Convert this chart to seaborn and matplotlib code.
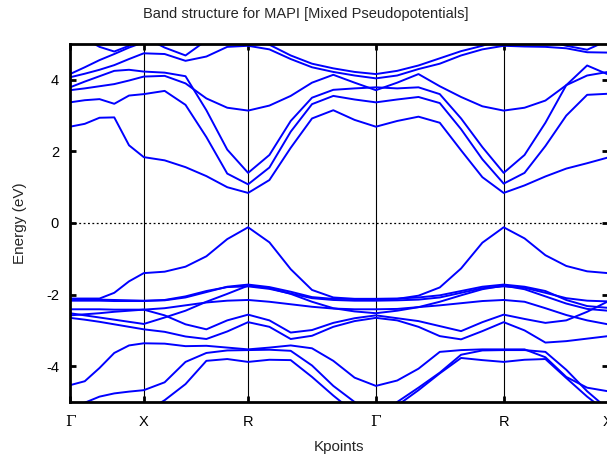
import numpy as np
import pandas as pd
import matplotlib
matplotlib.use("Agg")
import matplotlib.pyplot as plt
import seaborn as sns

# ---------------- data ----------------
# k-path segments (Γ-X, X-R, R-Γ, Γ-R, R-X) and their sampling
seg_lengths = [0.5, 0.7071, 0.8660, 0.8660, 0.7071]
seg_divs = [5, 5, 6, 6, 5]
sym_labels = ["Γ", "X", "R", "Γ", "R", "X"]
ytick_vals = [-4, -2, 0, 2, 4]
ytick_labels = ["-4", "-2", "0", "2", "4"]

# conduction bands (eV), one value per k-point
cb1 = [2.69, 2.77, 2.94, 2.95, 2.17, 1.84,
       1.75, 1.56, 1.31, 1.00, 0.84,
       1.20, 2.10, 2.92, 3.15, 2.88, 2.69,
       2.85, 2.97, 2.80, 2.03, 1.28, 0.84,
       1.05, 1.30, 1.52, 1.67, 1.83]
cb2 = [3.37, 3.43, 3.46, 3.33, 3.56, 3.60,
       3.69, 3.30, 2.40, 1.38, 1.08,
       1.55, 2.55, 3.32, 3.55, 3.45, 3.37,
       3.45, 3.52, 3.35, 2.62, 1.78, 1.10,
       1.40, 2.15, 3.00, 3.58, 3.61]
cb3 = [3.71, 3.76, 3.82, 3.88, 3.98, 4.09,
       4.11, 3.90, 3.48, 3.22, 3.14,
       3.28, 3.55, 3.92, 4.14, 3.92, 3.71,
       3.92, 4.16, 3.82, 3.52, 3.26, 3.14,
       3.22, 3.42, 3.85, 4.12, 4.22]
cb4 = [3.79, 3.95, 4.10, 4.25, 4.28, 4.23,
       4.20, 4.10, 3.15, 2.05, 1.40,
       1.90, 2.85, 3.50, 3.72, 3.76, 3.79,
       3.76, 3.79, 3.60, 2.92, 2.12, 1.40,
       1.90, 2.80, 3.85, 4.40, 4.15]
cb5 = [4.07, 4.17, 4.28, 4.41, 4.58, 4.74,
       4.72, 4.53, 4.65, 4.92, 4.95,
       4.85, 4.58, 4.35, 4.22, 4.12, 4.04,
       4.12, 4.30, 4.45, 4.68, 4.85, 4.95,
       4.93, 4.92, 4.88, 4.77, 4.76]
cb6 = [4.16, 4.35, 4.55, 4.72, 4.90, 5.05,
       5.20, 5.30, 5.30, 5.25, 5.15,
       4.98, 4.68, 4.45, 4.32, 4.22, 4.16,
       4.25, 4.40, 4.60, 4.80, 4.95, 5.15,
       5.15, 5.10, 4.95, 4.84, 5.10]
cb7 = [5.40, 5.15, 4.92, 4.79, 4.95, 5.20,
       4.90, 4.68, 5.10, 5.40, 5.50,
       5.50, 5.50, 5.50, 5.50, 5.50, 5.50,
       5.50, 5.50, 5.50, 5.50, 5.50, 5.50,
       5.50, 5.50, 5.50, 5.50, 5.50]

# valence bands (eV)
vb1 = [-2.11, -2.11, -2.11, -1.95, -1.63, -1.40,
       -1.36, -1.22, -0.93, -0.45, -0.12,
       -0.54, -1.29, -1.87, -2.08, -2.12, -2.12,
       -2.12, -2.03, -1.80, -1.27, -0.55, -0.12,
       -0.43, -0.90, -1.20, -1.35, -1.40]
vb2 = [-2.12, -2.13, -2.14, -2.15, -2.16, -2.17,
       -2.16, -2.08, -1.93, -1.78, -1.72,
       -1.79, -1.92, -2.07, -2.12, -2.12, -2.12,
       -2.11, -2.08, -2.02, -1.90, -1.78, -1.72,
       -1.78, -1.90, -2.15, -2.32, -2.37]
vb3 = [-2.17, -2.17, -2.17, -2.18, -2.18, -2.18,
       -2.15, -2.05, -1.90, -1.79, -1.77,
       -1.84, -1.97, -2.10, -2.15, -2.17, -2.17,
       -2.16, -2.14, -2.08, -1.95, -1.82, -1.77,
       -1.81, -1.95, -2.10, -2.17, -2.19]
vb4 = [-2.41, -2.41, -2.41, -2.42, -2.42, -2.42,
       -2.38, -2.30, -2.22, -2.17, -2.15,
       -2.20, -2.27, -2.34, -2.39, -2.41, -2.41,
       -2.40, -2.35, -2.30, -2.24, -2.18, -2.15,
       -2.20, -2.38, -2.57, -2.72, -2.83]
vb5 = [-2.58, -2.55, -2.52, -2.48, -2.45, -2.42,
       -2.58, -2.83, -2.97, -2.72, -2.56,
       -2.72, -3.06, -2.99, -2.79, -2.66, -2.58,
       -2.66, -2.74, -2.88, -3.02, -2.77, -2.56,
       -2.68, -2.79, -2.72, -2.48, -2.19]
vb6 = [-2.52, -2.58, -2.64, -2.70, -2.76, -2.82,
       -2.64, -2.45, -2.20, -1.98, -1.75,
       -1.82, -1.98, -2.20, -2.38, -2.47, -2.52,
       -2.45, -2.35, -2.20, -2.02, -1.85, -1.75,
       -1.85, -2.05, -2.25, -2.40, -2.45]
vb7 = [-2.65, -2.70, -2.76, -2.83, -2.90, -2.97,
       -3.04, -3.17, -3.24, -3.03, -2.77,
       -2.90, -3.24, -3.15, -2.90, -2.74, -2.65,
       -2.72, -2.90, -3.16, -3.25, -3.02, -2.77,
       -3.00, -3.34, -3.30, -3.23, -3.16]
vb8 = [-4.53, -4.42, -4.05, -3.63, -3.42, -3.36,
       -3.37, -3.44, -3.43, -3.48, -3.53,
       -3.48, -3.42, -3.50, -3.85, -4.32, -4.55,
       -4.40, -4.07, -3.60, -3.55, -3.53, -3.53,
       -3.53, -3.75, -4.30, -4.60, -4.70]
vb9 = [-5.25, -5.02, -4.85, -4.76, -4.71, -4.67,
       -4.45, -3.88, -3.63, -3.56, -3.55,
       -3.54, -3.57, -3.98, -4.55, -5.00, -5.40,
       -5.00, -4.60, -4.18, -3.68, -3.56, -3.55,
       -3.55, -3.60, -4.10, -4.70, -5.20]
vb10 = [-5.80, -5.70, -5.60, -5.50, -5.40, -5.30,
        -4.95, -4.50, -3.85, -3.80, -3.88,
        -3.82, -3.83, -4.30, -4.82, -5.30, -5.60,
        -5.10, -4.67, -4.20, -3.77, -3.83, -3.88,
        -3.82, -3.80, -4.33, -4.85, -5.30]

bands = [cb1, cb2, cb3, cb4, cb5, cb6, cb7,
         vb1, vb2, vb3, vb4, vb5, vb6, vb7, vb8, vb9, vb10]

# ---------------- k path ----------------
kpts = [0.0]
sym_k = [0.0]
for L, n in zip(seg_lengths, seg_divs):
    start = kpts[-1]
    kpts.extend(start + L * (i + 1) / n for i in range(n))
    sym_k.append(kpts[-1])
kpts = np.array(kpts)

df = pd.concat(
    [pd.DataFrame({"k": kpts, "E": b, "band": i}) for i, b in enumerate(bands)],
    ignore_index=True,
)

# ---------------- plot ----------------
sns.set_theme(style="white")
plt.rcParams["font.family"] = ["Liberation Sans", "DejaVu Sans"]
plt.rcParams["axes.unicode_minus"] = False

W, H = 607, 459
fig = plt.figure(figsize=(W / 100, H / 100), dpi=100)
ax = fig.add_axes([70 / W, 1 - 402 / H, 538 / W, 358 / H])

for xv in sym_k[1:-1]:
    ax.axvline(xv, color="black", lw=0.8, zorder=0)
ax.axhline(0, color="black", lw=0.9, ls=(0, (1.5, 2.0)), zorder=0)

sns.lineplot(data=df, x="k", y="E", units="band", estimator=None, sort=False,
             color="#0000ff", lw=1.4, ax=ax, legend=False)

ax.set_xlim(0, sym_k[-1])
ax.set_ylim(-5, 5)
ax.set_yticks(ytick_vals)
ax.set_yticklabels(ytick_labels)
ax.set_xticks(sym_k)
ax.set_xticklabels(sym_labels)

for s in ax.spines.values():
    s.set_linewidth(2.0)
    s.set_color("black")
    s.set_visible(True)

ax.tick_params(axis="both", direction="in", length=4, width=2, colors="black",
               left=True, right=True, top=True, bottom=True, labelsize=10.5)
ax.tick_params(axis="y", pad=8)
ax.tick_params(axis="x", pad=9)

for t in ax.get_xticklabels():
    if t.get_text() == "Γ":
        t.set_fontfamily(["DejaVu Serif", "Liberation Serif"])
        t.set_fontsize(11)

ax.set_xlabel("Kpoints", fontsize=11)
ax.set_ylabel("Energy (eV)", fontsize=11)
ax.xaxis.set_label_coords(0.5, (402 - 447) / 358)
ax.yaxis.set_label_coords((20 - 70) / 538, 0.5)
for lab in (ax.xaxis.label, ax.yaxis.label):
    lab.set_va("center")
    lab.set_ha("center")

fig.text(306 / W, 1 - 14 / H, "Band structure for MAPI [Mixed Pseudopotentials]",
         ha="center", va="center", fontsize=10.5)

fig.savefig("out.png", dpi=100)
